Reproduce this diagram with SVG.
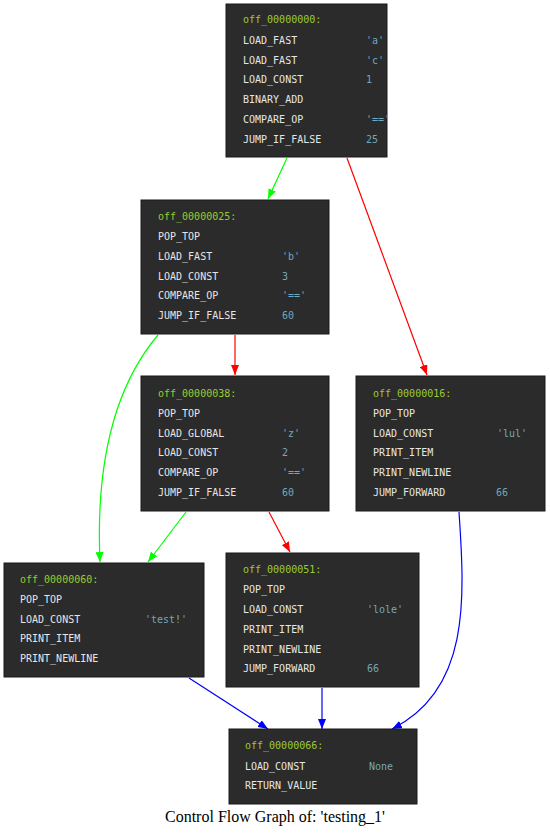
<svg xmlns="http://www.w3.org/2000/svg" width="550" height="836" viewBox="0 0 550 836">
<style>
.box{fill:#2b2b2b;stroke:#1a1a1a;stroke-width:1}
text{font-family:"DejaVu Sans Mono","Liberation Mono",monospace;font-size:10px}
.h{fill:#9acd32}
.o{fill:#e6e6e6}
.v{fill:#72a8b8}
.e{fill:none;stroke-width:1.2}
.title{font-family:"Liberation Serif",serif;font-size:16px;fill:#000}
</style>
<defs>
<marker id="ag" markerWidth="10" markerHeight="8" refX="10" refY="4" orient="auto" markerUnits="userSpaceOnUse"><path d="M0,0 L10,4 L0,8 Z" fill="#00ff00"/></marker>
<marker id="ar" markerWidth="10" markerHeight="8" refX="10" refY="4" orient="auto" markerUnits="userSpaceOnUse"><path d="M0,0 L10,4 L0,8 Z" fill="#ff0000"/></marker>
<marker id="ab" markerWidth="10" markerHeight="8" refX="10" refY="4" orient="auto" markerUnits="userSpaceOnUse"><path d="M0,0 L10,4 L0,8 Z" fill="#0000ff"/></marker>
</defs>
<rect width="550" height="836" fill="#ffffff"/>
<g id="edges">
<path class="e" stroke="#00ff00" marker-end="url(#ag)" d="M287,158 L268,199"/>
<path class="e" stroke="#ff0000" marker-end="url(#ar)" d="M347,158 L427,375"/>
<path class="e" stroke="#ff0000" marker-end="url(#ar)" d="M235,335 L235,375"/>
<path class="e" stroke="#00ff00" marker-end="url(#ag)" d="M158,335 C120,380 95,450 100,562"/>
<path class="e" stroke="#00ff00" marker-end="url(#ag)" d="M186,512 L148,562"/>
<path class="e" stroke="#ff0000" marker-end="url(#ar)" d="M269,512 L290,552"/>
<path class="e" stroke="#0000ff" marker-end="url(#ab)" d="M459,512 C465,600 470,690 392,729"/>
<path class="e" stroke="#0000ff" marker-end="url(#ab)" d="M189,678 L268,729"/>
<path class="e" stroke="#0000ff" marker-end="url(#ab)" d="M322,688 L322,729"/>
</g>
<g id="off_00000000">
<rect class="box" x="226" y="4" width="161" height="153"/>
<text x="243" y="23" class="h">off_00000000:</text>
<text x="243" y="44" class="o">LOAD_FAST</text><text x="366" y="44" class="v">'a'</text>
<text x="243" y="64" class="o">LOAD_FAST</text><text x="366" y="64" class="v">'c'</text>
<text x="243" y="83" class="o">LOAD_CONST</text><text x="366" y="83" class="v">1</text>
<text x="243" y="103" class="o">BINARY_ADD</text>
<text x="243" y="123" class="o">COMPARE_OP</text><text x="366" y="123" class="v">'=='</text>
<text x="243" y="143" class="o">JUMP_IF_FALSE</text><text x="366" y="143" class="v">25</text>
</g>
<g id="off_00000025">
<rect class="box" x="141" y="200" width="188" height="134"/>
<text x="158" y="220" class="h">off_00000025:</text>
<text x="158" y="240" class="o">POP_TOP</text>
<text x="158" y="260" class="o">LOAD_FAST</text><text x="282" y="260" class="v">'b'</text>
<text x="158" y="280" class="o">LOAD_CONST</text><text x="282" y="280" class="v">3</text>
<text x="158" y="299" class="o">COMPARE_OP</text><text x="282" y="299" class="v">'=='</text>
<text x="158" y="319" class="o">JUMP_IF_FALSE</text><text x="282" y="319" class="v">60</text>
</g>
<g id="off_00000038">
<rect class="box" x="141" y="376" width="188" height="135"/>
<text x="158" y="397" class="h">off_00000038:</text>
<text x="158" y="417" class="o">POP_TOP</text>
<text x="158" y="437" class="o">LOAD_GLOBAL</text><text x="282" y="437" class="v">'z'</text>
<text x="158" y="456" class="o">LOAD_CONST</text><text x="282" y="456" class="v">2</text>
<text x="158" y="476" class="o">COMPARE_OP</text><text x="282" y="476" class="v">'=='</text>
<text x="158" y="496" class="o">JUMP_IF_FALSE</text><text x="282" y="496" class="v">60</text>
</g>
<g id="off_00000016">
<rect class="box" x="356" y="376" width="189" height="135"/>
<text x="373" y="397" class="h">off_00000016:</text>
<text x="373" y="417" class="o">POP_TOP</text>
<text x="373" y="437" class="o">LOAD_CONST</text><text x="497" y="437" class="v">'lul'</text>
<text x="373" y="456" class="o">PRINT_ITEM</text>
<text x="373" y="476" class="o">PRINT_NEWLINE</text>
<text x="373" y="496" class="o">JUMP_FORWARD</text><text x="496" y="496" class="v">66</text>
</g>
<g id="off_00000060">
<rect class="box" x="4" y="563" width="200" height="114"/>
<text x="20" y="583" class="h">off_00000060:</text>
<text x="20" y="603" class="o">POP_TOP</text>
<text x="20" y="623" class="o">LOAD_CONST</text><text x="145" y="623" class="v">'test!'</text>
<text x="20" y="642" class="o">PRINT_ITEM</text>
<text x="20" y="662" class="o">PRINT_NEWLINE</text>
</g>
<g id="off_00000051">
<rect class="box" x="226" y="553" width="193" height="134"/>
<text x="243" y="573" class="h">off_00000051:</text>
<text x="243" y="593" class="o">POP_TOP</text>
<text x="243" y="613" class="o">LOAD_CONST</text><text x="367" y="613" class="v">'lole'</text>
<text x="243" y="633" class="o">PRINT_ITEM</text>
<text x="243" y="653" class="o">PRINT_NEWLINE</text>
<text x="243" y="672" class="o">JUMP_FORWARD</text><text x="367" y="672" class="v">66</text>
</g>
<g id="off_00000066">
<rect class="box" x="229" y="729" width="188" height="75"/>
<text x="245" y="749" class="h">off_00000066:</text>
<text x="245" y="770" class="o">LOAD_CONST</text><text x="369" y="770" class="v">None</text>
<text x="245" y="789" class="o">RETURN_VALUE</text>
</g>
<text class="title" x="275" y="822" text-anchor="middle">Control Flow Graph of: 'testing_1'</text>
</svg>
